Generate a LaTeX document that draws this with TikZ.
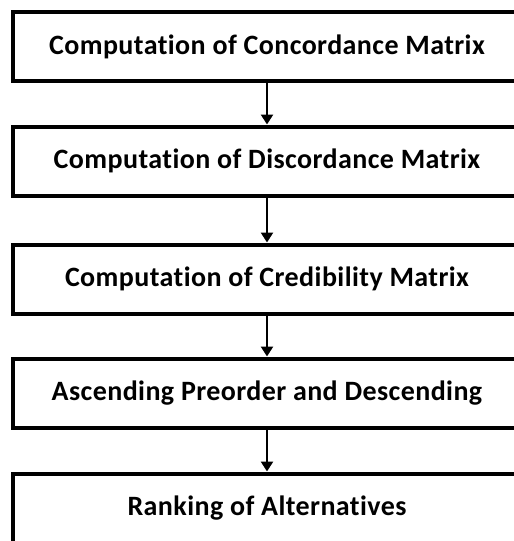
\documentclass[tikz,border=0pt]{standalone}
\usepackage{fontspec}
\setmainfont{Carlito}[Ligatures=NoCommon, LetterSpace=1.5]
\usetikzlibrary{arrows.meta}
\tikzset{
  stepbox/.style={draw=black, line width=4pt, minimum width=508pt, minimum height=69pt, inner sep=0pt, font=\fontsize{28}{33}\selectfont\bfseries},
  flow/.style={line width=2.5pt, -{Triangle[width=12pt,length=10pt]}}
}
\begin{document}
\begin{tikzpicture}[x=1pt,y=1pt]
\useasboundingbox (0,0) rectangle (514,-541);
\clip (0,0) rectangle (514,-541);
\node[stepbox] (b1) at (267,-46.5) {Computation of Concordance Matrix};
\node[stepbox] (b2) at (267,-161) {Computation of Discordance Matrix};
\node[stepbox] (b3) at (267,-279) {Computation of Credibility Matrix};
\node[stepbox] (b4) at (267,-393) {Ascending Preorder and Descending};
\node[stepbox] (b5) at (267,-508) {Ranking of Alternatives};
\draw[flow] (b1.south) -- (b2.north);
\draw[flow] (b2.south) -- (b3.north);
\draw[flow] (b3.south) -- (b4.north);
\draw[flow] (b4.south) -- (b5.north);
\end{tikzpicture}
\end{document}
